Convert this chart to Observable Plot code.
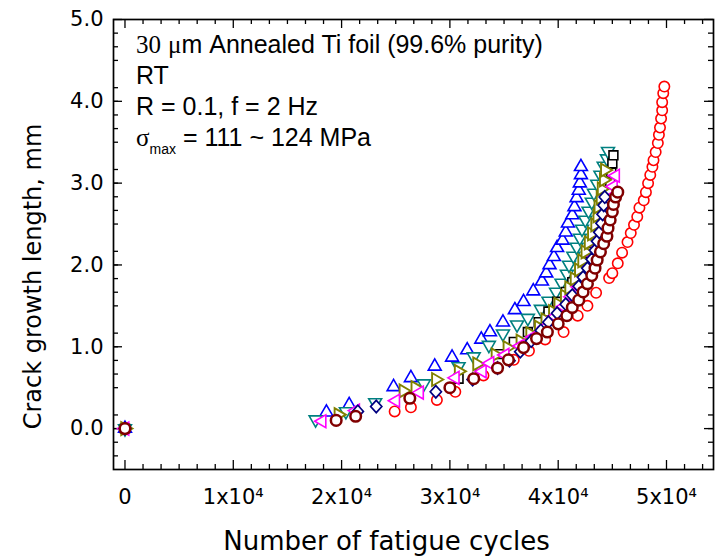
<!DOCTYPE html>
<html><head><meta charset="utf-8">
<script src="https://cdn.jsdelivr.net/npm/d3@7"></script>
<script src="https://cdn.jsdelivr.net/npm/@observablehq/plot@0.6"></script>
<style>body{margin:0;background:#fff}</style>
</head><body><div id="chart"></div>
<script>
// ---- data (cycles N, crack growth length L in mm) ----
const redN = [0,24900,26400,28800,30500,33100,35900,37300,38800,40500,41800,42700,43500,44700,45000,45500,45900,46400,46700,47000,47300,47500,47900,48100,48300,48500,48700,48800,49000,49200,49300,49400,49500,49600,49600,49700,49800];
const redL = [0,0.21,0.26,0.35,0.45,0.65,0.84,0.95,1.09,1.18,1.38,1.50,1.66,1.84,1.90,2.02,2.15,2.28,2.39,2.49,2.59,2.70,2.79,2.89,3.00,3.10,3.20,3.28,3.38,3.49,3.59,3.68,3.79,3.89,3.99,4.10,4.18];
const blueN = [0,18600,20700,24800,26400,28600,30200,31600,32900,33700,34900,36000,36800,37700,38500,38900,39200,39600,39900,40400,40700,40900,41300,41500,41700,41900,42000,42100,42100];
const blueL = [0,0.20,0.29,0.51,0.62,0.76,0.87,0.96,1.09,1.18,1.30,1.45,1.55,1.68,1.80,1.90,2.00,2.10,2.21,2.30,2.40,2.51,2.61,2.71,2.82,2.91,3.00,3.10,3.20];
const tealN = [0,17600,20400,23100,27600,30800,32200,33600,34900,36200,37200,38400,39100,39800,40300,40800,41000,41400,41700,42000,42200,42500,42800,43100,43300,43600,43900,44200,44500,44600];
const tealL = [0,0.11,0.21,0.32,0.55,0.76,0.88,1.02,1.16,1.27,1.35,1.46,1.56,1.67,1.78,1.89,2.00,2.11,2.22,2.33,2.44,2.55,2.66,2.77,2.88,2.99,3.10,3.21,3.30,3.39];
const blackN = [0,30800,32800,34600,35900,37200,38200,39100,39900,40700,41300,42000,42500,43000,43400,43800,44100,44400,44600,44700,44800,44900,45000,45100];
const blackL = [0,0.61,0.75,0.91,1.06,1.18,1.30,1.43,1.55,1.67,1.79,1.91,2.04,2.16,2.28,2.40,2.52,2.65,2.77,2.89,3.01,3.13,3.24,3.34];
const oliveN = [0,19700,25700,26800,28700,30800,32500,34200,35300,36500,37400,38200,38800,39500,40000,40600,41000,41500,41900,42200,42500,42800,43100,43400,43600,43700,43900,44000,44200,44300];
const oliveL = [0,0.17,0.46,0.50,0.60,0.70,0.79,0.90,0.99,1.07,1.16,1.24,1.33,1.43,1.52,1.62,1.72,1.83,1.94,2.05,2.16,2.27,2.38,2.49,2.60,2.71,2.82,2.93,3.04,3.16];
const magN = [0,18200,21300,25000,27200,30500,33000,33700,35100,36500,37700,38800,39700,40500,41200,41900,42500,43000,43400,43800,44100,44400,44600,44700,44900,45100,45300];
const magL = [0,0.09,0.22,0.34,0.44,0.62,0.70,0.80,0.90,1.01,1.12,1.24,1.37,1.49,1.61,1.73,1.85,1.98,2.10,2.22,2.34,2.46,2.59,2.71,2.83,2.96,3.09];
const navyN = [0,21500,23200,28700,32100,34400,35500,36500,37500,38400,39100,39900,40700,41300,41900,42300,42700,43100,43400,43600,43800,44000,44100,44200,44300];
const navyL = [0,0.21,0.27,0.45,0.60,0.74,0.83,0.94,1.07,1.20,1.30,1.41,1.52,1.63,1.74,1.85,1.96,2.07,2.18,2.29,2.40,2.51,2.62,2.73,2.83];
const maroonN = [0,19500,21300,26300,30000,32200,34400,35400,36800,38000,39000,40000,40800,41300,41900,42300,42700,43100,43400,43600,43900,44200,44500,44600,44800,45000,45100,45300,45500];
const maroonL = [0,0.10,0.15,0.37,0.50,0.61,0.74,0.84,0.99,1.10,1.18,1.28,1.38,1.48,1.57,1.67,1.77,1.87,1.96,2.06,2.16,2.26,2.35,2.45,2.55,2.65,2.74,2.83,2.89];

// ---- ticks & labels ----
const xMajor = [0, 10000, 20000, 30000, 40000, 50000];
const yMajor = [0, 1, 2, 3, 4, 5];
const xLabels = ["0", "1x10⁴", "2x10⁴", "3x10⁴", "4x10⁴", "5x10⁴"];
const yLabels = ["0.0", "1.0", "2.0", "3.0", "4.0", "5.0"];
const xTitle = "Number of fatigue cycles";
const yTitle = "Crack growth length, mm";
const noteLines = ["Annealed Ti foil (99.6% purity)", "RT", "R = 0.1, f = 2 Hz", " = 111 ~ 124 MPa"];

const xDomain = [-1060, 54340];
const yDomain = [-0.5, 5.0];
const xMinor = d3.range(0, xDomain[1], 10000 / 6).filter((d, i) => i % 6 !== 0);
const yMinor = d3.range(-2, 30).map(k => k / 6).filter((d, i) => (i + 2) % 6 !== 0 && d > yDomain[0]);

// ---- symbols ----
const poly = pts => ({draw(ctx, size) {
  const R = Math.sqrt(size / Math.PI);
  ctx.moveTo(pts[0][0] * R, pts[0][1] * R);
  for (let i = 1; i < pts.length; i++) ctx.lineTo(pts[i][0] * R, pts[i][1] * R);
  ctx.closePath();
}});
const triUp = poly([[0,-1.2],[1.04,0.6],[-1.04,0.6]]);
const triDown = poly([[0,1.2],[1.04,-0.6],[-1.04,-0.6]]);
const triLeft = poly([[-1.2,0],[0.6,-1.04],[0.6,1.04]]);
const triRight = poly([[1.2,0],[-0.6,-1.04],[-0.6,1.04]]);
const diamond = poly([[0,-1.1],[1.0,0],[0,1.1],[-1.0,0]]);
const square = poly([[-0.85,-0.85],[0.85,-0.85],[0.85,0.85],[-0.85,0.85]]);
const circ = {draw(ctx, size) { const R = Math.sqrt(size / Math.PI); ctx.moveTo(R, 0); ctx.arc(0, 0, R, 0, 2 * Math.PI); }};

const series = [
  {N: redN, L: redL, color: "#ff0000", symbol: circ, r: 5.2, sw: 1.6},
  {N: blueN, L: blueL, color: "#0000ff", symbol: triUp, r: 6.2, sw: 1.6},
  {N: tealN, L: tealL, color: "#008080", symbol: triDown, r: 6.2, sw: 1.6},
  {N: blackN, L: blackL, color: "#000000", symbol: square, r: 5.2, sw: 1.6},
  {N: oliveN, L: oliveL, color: "#808000", symbol: triRight, r: 6.2, sw: 1.9},
  {N: magN, L: magL, color: "#ff00ff", symbol: triLeft, r: 6.2, sw: 1.6},
  {N: navyN, L: navyL, color: "#000080", symbol: diamond, r: 5.6, sw: 1.7},
  {N: maroonN, L: maroonL, color: "#800000", symbol: circ, r: 5.3, sw: 2.5}
];

const W = 715, H = 558, ML = 113, MR = 2, MT = 19, MB = 89;
const FW = W - ML - MR, FH = H - MT - MB;
const tickStyle = {stroke: "black", strokeWidth: 1.3};

const dotMarks = series.map(s => Plot.dot(s.N.map((n, i) => ({n, l: s.L[i]})), {
  x: "n", y: "l", symbol: s.symbol, r: s.r, stroke: s.color, strokeWidth: s.sw, fill: "white"
}));

const chart = Plot.plot({
  width: W, height: H,
  marginLeft: ML, marginRight: MR, marginTop: MT, marginBottom: MB,
  style: {fontFamily: "'DejaVu Sans', sans-serif", background: "white", color: "black"},
  x: {domain: xDomain},
  y: {domain: yDomain},
  marks: [
    // tick marks on all four sides (inward)
    Plot.tickX(xMajor, {x: d => d, insetTop: FH - 9, ...tickStyle}),
    Plot.tickX(xMajor, {x: d => d, insetBottom: FH - 9, ...tickStyle}),
    Plot.tickX(xMinor, {x: d => d, insetTop: FH - 5, ...tickStyle}),
    Plot.tickX(xMinor, {x: d => d, insetBottom: FH - 5, ...tickStyle}),
    Plot.tickY(yMajor, {y: d => d, insetRight: FW - 9, ...tickStyle}),
    Plot.tickY(yMajor, {y: d => d, insetLeft: FW - 9, ...tickStyle}),
    Plot.tickY(yMinor, {y: d => d, insetRight: FW - 5, ...tickStyle}),
    Plot.tickY(yMinor, {y: d => d, insetLeft: FW - 5, ...tickStyle}),
    Plot.axisX({ticks: xMajor, tickSize: 0, tickPadding: 20, fontSize: 21, label: null,
      tickFormat: d => xLabels[xMajor.indexOf(d)]}),
    Plot.axisY({ticks: yMajor, tickSize: 0, tickPadding: 10, fontSize: 21, label: null,
      tickFormat: d => yLabels[yMajor.indexOf(d)]}),
    ...dotMarks,
    Plot.frame({stroke: "black", strokeWidth: 1.7}),
    Plot.text([xTitle], {text: d => d, frameAnchor: "bottom", textAnchor: "middle", lineAnchor: "middle",
      dx: -27, dy: 72, fontSize: 26, fill: "black"}),
    Plot.text([yTitle], {text: d => d, frameAnchor: "left", textAnchor: "middle", lineAnchor: "middle",
      dx: -80, dy: 32, rotate: -90, fontSize: 24, fill: "black"})
  ]
});
document.getElementById("chart").appendChild(chart);

// annotation block (mixed fonts, subscript)
const svg = d3.select(chart);
const ann = svg.append("g")
  .attr("font-family", "'Liberation Sans', Arial, sans-serif")
  .attr("font-size", 25).attr("fill", "black").attr("text-anchor", "start");
const serif = "'Liberation Serif', 'Times New Roman', serif";
const t1 = ann.append("text").attr("x", 136).attr("y", 53);
t1.append("tspan").attr("font-family", serif).text("30");
t1.append("tspan").attr("font-family", serif).attr("dx", 7).text("μ");
t1.append("tspan").text("m");
t1.append("tspan").attr("dx", 7).text(noteLines[0]);
ann.append("text").attr("x", 136).attr("y", 84).text(noteLines[1]);
ann.append("text").attr("x", 136).attr("y", 115).text(noteLines[2]);
const t4 = ann.append("text").attr("x", 136).attr("y", 146);
t4.append("tspan").attr("font-family", serif).text("σ");
t4.append("tspan").attr("font-size", 14).attr("dy", 8).text("max");
t4.append("tspan").attr("dy", -8).text(noteLines[3]);
</script>
</body></html>
